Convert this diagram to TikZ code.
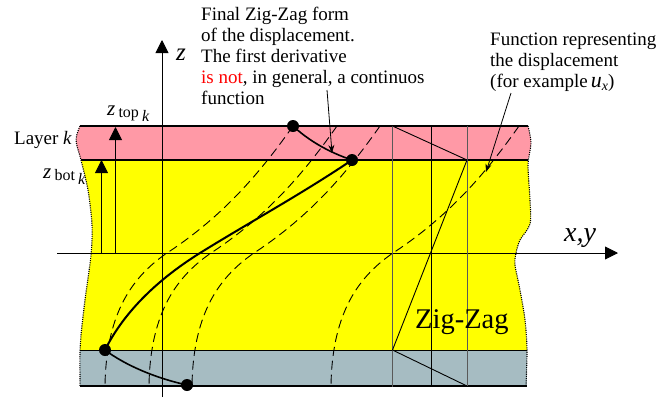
\documentclass[tikz,border=0pt]{standalone}
\usepackage{fontspec}
\setmainfont{Liberation Serif}
\usetikzlibrary{arrows.meta}
\definecolor{layeryellow}{HTML}{FFFF00}
\definecolor{layerpink}{HTML}{FF99A6}
\definecolor{layergray}{HTML}{A6BCC2}
\tikzset{
    axisline/.style={line width=0.9pt, -{Triangle[length=13pt,width=13pt]}},
    layerline/.style={line width=1.3pt},
    edgeline/.style={line width=1.1pt, dash pattern=on 1.1pt off 1.1pt},
    dashcurve/.style={line width=0.9pt, dash pattern=on 9pt off 5pt},
    zigline/.style={line width=0.9pt},
    guideline/.style={line width=0.7pt, black!65},
    callout/.style={line width=0.8pt, -{Stealth[length=8pt,width=6pt]}},
    thickcurve/.style={line width=2pt},
    dot/.style={circle, fill=black, inner sep=0pt, minimum size=12pt},
    note/.style={anchor=base west, inner sep=0pt, align=left, font=\fontsize{19}{21}\selectfont},
}
\begin{document}
\begin{tikzpicture}[x=1pt, y=-1pt]
    \useasboundingbox (0,0) rectangle (672,397);

    % layers
    \fill[layeryellow] plot[smooth] coordinates {(81,160) (88,190) (92,225) (91,255) (85,300) (81,335) (80,350)}
        -- plot[smooth] coordinates {(527,350) (525,320) (520,290) (515,265) (516,253) (520,240) (530,224) (530,200) (528,165) (528,160)} -- cycle;
    \fill[layerpink] plot[smooth] coordinates {(80,126) (76,140) (81,160)}
        -- plot[smooth] coordinates {(528,160) (531,143) (528,126)} -- cycle;
    \fill[layergray] (80,350) -- (80,386) -- (527,386) -- (527,350) -- cycle;

    \draw[edgeline] plot[smooth] coordinates {(80,126) (76,140) (81,160) (88,190) (92,225) (91,255) (85,300) (81,335) (80,350) (80,386)};
    \draw[edgeline] plot[smooth] coordinates {(528,126) (531,143) (528,165) (530,200) (530,224) (520,240) (516,253) (515,265) (520,290) (525,320) (527,350) (526,386)};

    \draw[layerline] (80,126) -- (528,126);
    \draw[layerline] (81,160) -- (528,160);
    \draw[layerline] (80,350.5) -- (527,350.5);
    \draw[layerline] (80,386) -- (527,386);

    % axes
    \coordinate (zstart) at (162,397);
    \coordinate (zend) at (162,40);
    \coordinate (xstart) at (57,253);
    \coordinate (xend) at (618,253);
    \draw[axisline] (zstart) -- (zend);
    \draw[axisline] (xstart) -- (xend);

    % layer position arrows
    \coordinate (topfoot) at (115.5,253);
    \coordinate (tophead) at (115.5,127);
    \coordinate (botfoot) at (101.5,253);
    \coordinate (bothead) at (101.5,160);
    \draw[axisline] (topfoot) -- (tophead);
    \draw[axisline] (botfoot) -- (bothead);

    % dashed displacement curves
    \foreach \shift in {0,44,87,226}
        \draw[dashcurve, xshift=\shift pt] (293,126) .. controls (262,170) and (225,215) .. (167,253) .. controls (135,275) and (106,310) .. (105,386);

    % zig-zag reference
    \draw[guideline] (392.5,126) -- (392.5,387);
    \draw[zigline] (431,126) -- (431,386);
    \draw[guideline] (467,126) -- (467,386);
    \coordinate (zigA) at (392.5,126);
    \coordinate (zigB) at (467,160);
    \coordinate (zigC) at (392.5,350);
    \coordinate (zigD) at (467,386);
    \draw[zigline] (zigA) -- (zigB) -- (zigC) -- (zigD);

    % final form
    \node[dot] (dottop) at (293,126) {};
    \node[dot] (dotmid) at (352,160) {};
    \node[dot] (dotlow) at (105,350) {};
    \node[dot] (dotend) at (187,385) {};
    \draw[thickcurve, line width=1.6pt] (dottop.center) .. controls (308,140) and (328,152) .. (dotmid.center);
    \draw[thickcurve] (dotmid.center) .. controls (300,195) and (250,222) .. (200,253) .. controls (160,278) and (125,310) .. (dotlow.center);
    \draw[thickcurve, line width=1.6pt] (dotlow.center) .. controls (125,365) and (155,378) .. (dotend.center);

    % labels
    \node[note] (finaltext) at (201,104) {Final Zig-Zag form\\of the displacement.\\The first derivative\\{\color{red}is not}, in general, a continuos\\function};
    \node[note] (functext) at (490,87) {Function representing\\the displacement\\(for example\,{\fontsize{22}{22}\selectfont\itshape u}{\raisebox{-3pt}{\fontsize{14}{14}\selectfont\itshape x}})};
    \node[note] (layertext) at (14,144) {Layer \textit{k}};
    \node[note, font=\fontsize{25}{25}\selectfont\itshape] (zlabel) at (176,60) {z};
    \node[note, font=\fontsize{28}{28}\selectfont\itshape] (xylabel) at (564,241) {x,y};
    \node[note, font=\fontsize{28.5}{28.5}\selectfont] (zigtext) at (415,328) {Zig-Zag};
    \node[note] (ztop) at (107,115) {{\fontsize{21}{21}\selectfont\itshape z}\,\raisebox{-2pt}{\fontsize{16}{16}\selectfont top}\,\raisebox{-6pt}{\fontsize{16}{16}\selectfont\itshape k}};
    \node[note] (zbot) at (43,178) {{\fontsize{21}{21}\selectfont\itshape z}\,\raisebox{-2pt}{\fontsize{16}{16}\selectfont bot}\,\raisebox{-6pt}{\fontsize{16}{16}\selectfont\itshape k}};

    % callouts
    \coordinate (finalfrom) at (327,90);
    \coordinate (finalto) at (332,153);
    \coordinate (funcfrom) at (511,93);
    \coordinate (functo) at (486,172);
    \draw[callout] (finalfrom) -- (finalto);
    \draw[callout] (funcfrom) -- (functo);
\end{tikzpicture}
\end{document}
